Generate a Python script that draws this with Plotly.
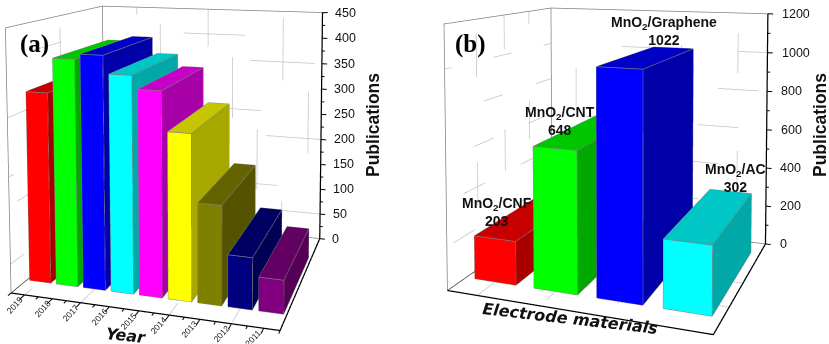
import plotly.graph_objects as go

years = ["2019","2018","2017","2016","2015","2014","2013","2012","2011"]
pubs_a = [334, 394, 403, 372, 349, 282, 168, 87, 56]
colors_a = ["#ff0000","#00ff00","#0000ff","#00ffff","#ff00ff","#ffff00","#808000","#000080","#800080"]
ticks_a = [0,50,100,150,200,250,300,350,400,450]

labels_b = ["MnO<sub>2</sub>/CNF","MnO<sub>2</sub>/CNT","MnO<sub>2</sub>/Graphene","MnO<sub>2</sub>/AC"]
pubs_b = [203, 648, 1022, 302]
colors_b = ["#ff0000","#00ff00","#0000ff","#00ffff"]
ticks_b = [0,200,400,600,800,1000,1200]

PAD = 0.05
VH = 344   # the page shows the lower half of a 688 px tall figure, which acts as a shifted camera lens

def shade(hexc, f):
    r,g,b = [int(hexc[i:i+2],16) for i in (1,3,5)]
    return f"rgb({int(r*f)},{int(g*f)},{int(b*f)})"

def bar(i, v, c, w, y0, y1):
    x0,x1 = i+1-w/2, i+1+w/2
    xs=[x0,x1,x1,x0,x0,x1,x1,x0]; ys=[y0,y0,y1,y1,y0,y0,y1,y1]; zs=[0,0,0,0,v,v,v,v]
    I=[0,0,1,1,4,4,0,0,3,3,2,2]; J=[1,5,2,6,5,6,3,7,2,6,1,5]; K=[5,4,6,5,6,7,7,4,6,7,5,6]
    f=[1,1,.66,.66,.78,.78,1,1,.6,.6,.66,.66]
    return go.Mesh3d(x=xs,y=ys,z=zs,i=I,j=J,k=K,facecolor=[shade(c,q) for q in f],flatshading=True,
        lighting=dict(ambient=1,diffuse=0,specular=0,fresnel=0,roughness=1),hoverinfo="skip",showscale=False)

def edges(i, v, w, y0, y1):
    x0,x1 = i+1-w/2, i+1+w/2
    return [(x0,y0,0),(x1,y0,0),(x1,y1,0),(x1,y1,v),(x1,y0,v),(x1,y0,0),None,(x0,y0,0),(x0,y0,v),(x1,y0,v),None,(x0,y0,v),(x0,y1,v),(x1,y1,v)]

def lines(segs, color, width, scene, dash="solid"):
    X=[];Y=[];Z=[]
    for p in segs:
        if p is None: X.append(None);Y.append(None);Z.append(None)
        else: X.append(p[0]);Y.append(p[1]);Z.append(p[2])
    return go.Scatter3d(x=X,y=Y,z=Z,mode="lines",line=dict(color=color,width=width,dash=dash),hoverinfo="skip",showlegend=False,scene=scene)

def panel(fig, scene, values, colors, ticks, w, y0, y1, front_ticks):
    n=len(values); xa,xb=.5,n+.5; ya,yb=0,1; zmax=ticks[-1]
    g=[]
    for z in ticks[1:]:
        g+=[(xa,yb,z),(xb,yb,z),None,(xa,ya,z),(xa,yb,z),None]
    for i in range(1,n+1):
        g+=[(i,ya,0),(i,yb,0),(i,yb,zmax),None]
    for y in (.25,.5,.75):
        g+=[(xa,y,0),(xa,y,zmax),None,(xa,y,0),(xb,y,0),None]
    fig.add_trace(lines(g,"#c4c4c4",1.5,scene,"dash"))
    o=[(xa,ya,0),(xa,ya,zmax),(xa,yb,zmax),(xb,yb,zmax),None,(xa,yb,zmax),(xa,yb,0),(xb,yb,0)]
    fig.add_trace(lines(o,"#808080",1.5,scene))
    fig.add_trace(lines([(xa,ya,0),(xa,yb,0)],"#444444",1.5,scene))
    fig.add_trace(lines([(xa,ya,0),(xb,ya,0),(xb,yb,0),(xb,yb,zmax)],"#000000",2.5,scene))
    step=(ticks[1]-ticks[0])/2
    tk=[]
    for j in range(2*(len(ticks)-1)+1):
        L=n*(.022 if j%2==0 else .012)
        tk+=[(xb,yb,j*step),(xb+L,yb,j*step),None]
    if front_ticks:
        for i in range(n+1):
            tk+=[(xa+i,ya,0),(xa+i,ya-.025,0),None]
            if i<n: tk+=[(i+1,ya,0),(i+1,ya-.045,0),None]
    fig.add_trace(lines(tk,"#000000",2,scene))
    for i,(v,c) in enumerate(zip(values,colors)):
        t=bar(i,v,c,w,y0,y1); t.scene=scene; fig.add_trace(t)
        fig.add_trace(lines(edges(i,v,w,y0,y1),"#808080",1.5,scene))

fig=go.Figure()
panel(fig,"scene",pubs_a,colors_a,ticks_a,.795,.139,.739,True)
panel(fig,"scene2",pubs_b,colors_b,ticks_b,.699,.147,.864,False)

def ax(lo,hi):
    s=(hi-lo)*PAD
    return dict(visible=False,showgrid=False,showbackground=False,zeroline=False,showticklabels=False,title="",range=[lo-s,hi+s])

def scene(dom,asp,eye,cen,up,xr,zr,anns):
    k=1+2*PAD
    return dict(domain=dict(x=dom,y=[0,1]),xaxis=ax(*xr),yaxis=ax(0,1),zaxis=ax(*zr),aspectmode="manual",
        aspectratio=dict(x=asp[0]*k,y=asp[1]*k,z=asp[2]*k),
        camera=dict(eye=dict(x=eye[0],y=eye[1],z=eye[2]),center=dict(x=cen[0],y=cen[1],z=cen[2]),up=dict(x=up[0],y=up[1],z=up[2])),
        annotations=anns)

def tick_anns(ticks,xb,shift):
    return [dict(x=xb,y=1,z=z,text=str(z),showarrow=False,xanchor="left",xshift=shift,font=dict(family="Liberation Sans",size=12.5,color="#111")) for z in ticks]

ann_a=tick_anns(ticks_a,9.5,11)+[dict(x=i+1,y=0,z=0,text=y,showarrow=False,textangle=-48,yshift=-10,xshift=-10,font=dict(family="Liberation Sans",size=8.5,color="#111")) for i,y in enumerate(years)]
ann_b=tick_anns(ticks_b,4.5,13)

def px(x,y): return dict(xref="paper",yref="paper",x=x/829,y=1-(y+VH)/(2*VH),xanchor="center",yanchor="middle",showarrow=False)
blabel=[(497,212),(560,121),(664,31),(735,178)]
texts=[
  dict(px(34,44),text="<b>(a)</b>",font=dict(family="Liberation Serif",size=25,color="#000")),
  dict(px(470,44),text="<b>(b)</b>",font=dict(family="Liberation Serif",size=25,color="#000")),
  dict(px(373,125),text="<b>Publications</b>",textangle=-90,font=dict(family="Liberation Sans",size=17.5,color="#111")),
  dict(px(820,125),text="<b>Publications</b>",textangle=-90,font=dict(family="Liberation Sans",size=17.5,color="#111")),
  dict(px(126,335),text="<b><i>Year</i></b>",textangle=6,font=dict(family="DejaVu Sans",size=16,color="#111")),
  dict(px(570,318),text="<b><i>Electrode materials</i></b>",textangle=6.5,font=dict(family="DejaVu Sans",size=16,color="#111")),
]+[dict(px(*p),text=f"<b>{m}<br>{v}</b>",font=dict(family="Liberation Sans",size=14,color="#111")) for p,m,v in zip(blabel,labels_b,pubs_b)]

fig.update_layout(width=829,height=2*VH,margin=dict(l=0,r=0,t=0,b=0),showlegend=False,paper_bgcolor="white",
    scene=scene([0,.5],(1.434,1.221,1.4),(1.464,-4.350,1.210),(.305,-.434,.853),(0,.053,1),(.5,9.5),(0,450),ann_a),
    scene2=scene([.5,1],(1.428,1.274,1.4),(1.634,-4.296,1.074),(0,.070,.799),(0,.052,1),(.5,4.5),(0,1200),ann_b),
    annotations=texts)
fig.write_html("out.html",config=dict(displayModeBar=False),
    post_script="document.body.style.margin='-344px 0 0 0';document.documentElement.style.overflow='hidden';")
